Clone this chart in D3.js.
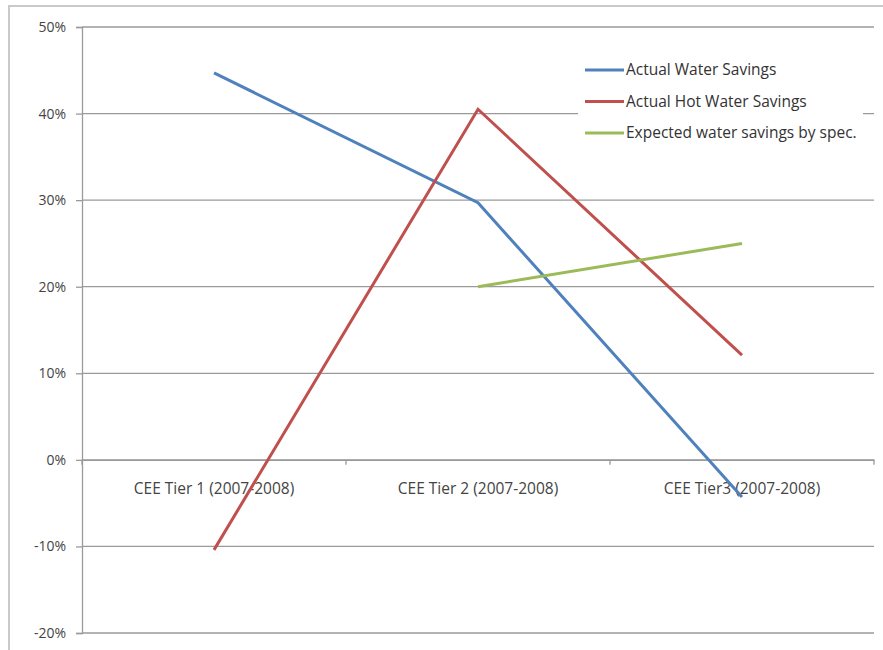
<!DOCTYPE html>
<html><head><meta charset="utf-8">
<script src="https://cdn.jsdelivr.net/npm/d3@7"></script>
<style>body{margin:0;background:#fff}svg{display:block}</style>
</head><body>
<svg id="c" width="883" height="650"></svg>
<script>
const categories = ["CEE Tier 1 (2007-2008)", "CEE Tier 2 (2007-2008)", "CEE Tier3 (2007-2008)"];
const actualWater = [0.447, 0.297, -0.043];
const actualHotWater = [-0.104, 0.405, 0.121];
const expectedSpec = [null, 0.20, 0.25];
const seriesNames = ["Actual Water Savings", "Actual Hot Water Savings", "Expected water savings by spec."];
const yTicks = [-0.2, -0.1, 0, 0.1, 0.2, 0.3, 0.4, 0.5];

const colors = ["#4F81BD", "#C0504D", "#9BBB59"];
const series = [actualWater, actualHotWater, expectedSpec];

const svg = d3.select("#c");
const font = "'Open Sans', 'Liberation Sans', sans-serif";

// outer chart frame
svg.append("rect").attr("x", 9).attr("y", 6).attr("width", 900).attr("height", 700)
  .attr("fill", "#fff").attr("stroke", "#c9c9c9").attr("stroke-width", 2);

const x = d3.scaleBand().domain(categories).range([82, 874]);
const y = d3.scaleLinear().domain([-0.2, 0.5]).range([633, 27]);
const cx = c => x(c) + x.bandwidth() / 2;
const fmt = d => Math.round(d * 100) + "%";

// gridlines
svg.append("g").selectAll("line").data(yTicks).join("line")
  .attr("x1", 82).attr("x2", 874)
  .attr("y1", d => y(d)).attr("y2", d => y(d))
  .attr("stroke", "#9a9a9a").attr("stroke-width", 1.3);

// y axis
const ya = svg.append("g").attr("transform", "translate(82,0)")
  .call(d3.axisLeft(y).tickValues(yTicks).tickFormat(fmt).tickSize(6).tickPadding(10));
ya.select(".domain").attr("stroke", "#9a9a9a").attr("stroke-width", 1.3);
ya.selectAll(".tick line").attr("stroke", "#9a9a9a").attr("stroke-width", 1.3);
ya.selectAll("text").attr("font-family", font).attr("font-size", 14).attr("fill", "#444");

// x axis at 0
const xa = svg.append("g").attr("transform", `translate(0,${y(0)})`)
  .call(d3.axisBottom(x).tickSize(0).tickPadding(23));
xa.select(".domain").attr("stroke", "#9a9a9a").attr("stroke-width", 1.3);
xa.selectAll("text").attr("font-family", font).attr("font-size", 15.5).attr("fill", "#444");
// category boundary tick marks
svg.append("g").selectAll("line").data([0, 1, 2, 3]).join("line")
  .attr("x1", i => 82 + i * x.step()).attr("x2", i => 82 + i * x.step())
  .attr("y1", y(0)).attr("y2", y(0) + 5)
  .attr("stroke", "#9a9a9a").attr("stroke-width", 1.3);

// series lines
const line = d3.line().defined(d => d.v != null).x(d => cx(d.c)).y(d => y(d.v));
series.forEach((s, i) => {
  svg.append("path")
    .datum(categories.map((c, j) => ({c, v: s[j]})))
    .attr("d", line).attr("fill", "none")
    .attr("stroke", colors[i]).attr("stroke-width", 3);
});

// legend
const lg = svg.append("g");
lg.append("rect").attr("x", 578).attr("y", 55).attr("width", 285).attr("height", 95).attr("fill", "#fff");
seriesNames.forEach((n, i) => {
  const yy = 70 + i * 31.5;
  lg.append("line").attr("x1", 585).attr("x2", 624).attr("y1", yy).attr("y2", yy)
    .attr("stroke", colors[i]).attr("stroke-width", 3);
  lg.append("text").attr("x", 626).attr("y", yy).attr("dy", "0.35em")
    .attr("font-family", font).attr("font-size", 15.5).attr("fill", "#333").text(n);
});
</script>
</body></html>
